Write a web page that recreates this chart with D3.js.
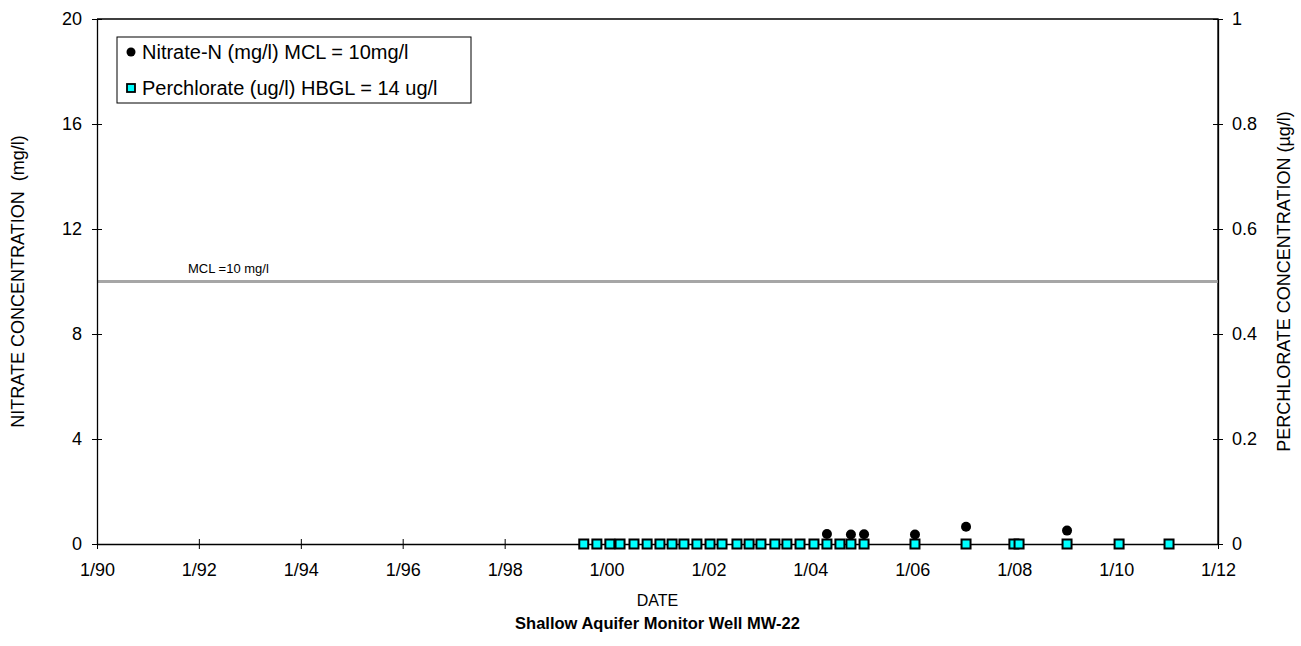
<!DOCTYPE html>
<html>
<head>
<meta charset="utf-8">
<script src="https://cdn.jsdelivr.net/npm/d3@7"></script>
<style>
    body { margin: 0; background: #fff; }
    text { font-family: "Liberation Sans", Arial, sans-serif; fill: #000; white-space: pre; }
</style>
</head>
<body>
<svg id="chart" width="1301" height="646"></svg>
<script>
// Sample dates for perchlorate (all non-detect, plotted at 0)
const perchlorateDates = [
    "1999-07-22", "1999-10-24", "2000-01-25", "2000-04-07", "2000-07-16", "2000-10-18",
    "2001-01-18", "2001-04-15", "2001-07-09", "2001-10-10", "2002-01-12", "2002-04-08",
    "2002-07-24", "2002-10-19", "2003-01-12", "2003-04-22", "2003-07-17", "2003-10-19",
    "2004-01-27", "2004-04-29", "2004-07-31", "2004-10-18", "2005-01-20", "2006-01-20",
    "2007-01-21", "2007-12-30", "2008-02-05", "2009-01-14", "2010-01-22", "2011-01-15"
];
const perchlorateValues = perchlorateDates.map(() => 0);

// Nitrate detections
const nitrateDates = ["2004-04-29", "2004-10-18", "2005-01-20", "2006-01-20", "2007-01-21", "2009-01-14"];
const nitrateValues = [0.38, 0.36, 0.37, 0.36, 0.66, 0.51];

const xTickYears = [1990, 1992, 1994, 1996, 1998, 2000, 2002, 2004, 2006, 2008, 2010, 2012];
const leftTicks = [0, 4, 8, 12, 16, 20];
const rightTicks = [0, 0.2, 0.4, 0.6, 0.8, 1];
const mclValue = 10;

const legendLabels = ["Nitrate-N (mg/l) MCL = 10mg/l", "Perchlorate (ug/l) HBGL = 14 ug/l"];

const parse = d3.timeParse("%Y-%m-%d");
const margin = { left: 97, right: 1218, top: 19, bottom: 544 };

const svg = d3.select("#chart");

const x = d3.scaleTime()
    .domain([new Date(1990, 0, 1), new Date(2012, 0, 1)])
    .range([margin.left, margin.right]);
const yLeft = d3.scaleLinear().domain([0, 20]).range([margin.bottom, margin.top]);
const yRight = d3.scaleLinear().domain([0, 1]).range([margin.bottom, margin.top]);

// plot frame (top and right edges)
svg.append("path")
    .attr("d", `M${margin.left},${margin.top}H${margin.right}V${margin.bottom}`)
    .attr("fill", "none")
    .attr("stroke", "#000")
    .attr("stroke-width", 1.3);

// MCL line
svg.append("line")
    .attr("x1", margin.left).attr("x2", margin.right)
    .attr("y1", yLeft(mclValue)).attr("y2", yLeft(mclValue))
    .attr("stroke", "#a6a6a6")
    .attr("stroke-width", 3);
svg.append("text")
    .attr("x", 188).attr("y", yLeft(mclValue) - 9)
    .attr("font-size", 13)
    .text("MCL =10 mg/l");

// axes
function styleAxis(g) {
    g.selectAll(".domain").attr("stroke", "#000").attr("stroke-width", 1.3);
    g.selectAll(".tick line").attr("stroke", "#000").attr("stroke-width", 1);
    g.selectAll(".tick text").attr("font-size", 18).attr("font-family", "Liberation Sans, Arial, sans-serif");
}

const xAxis = svg.append("g")
    .attr("transform", `translate(0,${margin.bottom})`)
    .call(d3.axisBottom(x)
        .tickValues(xTickYears.map(yr => new Date(yr, 0, 1)))
        .tickFormat(d => "1/" + d3.timeFormat("%y")(d))
        .tickSize(5)
        .tickPadding(14)
        .tickSizeOuter(0));
styleAxis(xAxis);
xAxis.selectAll(".tick line").attr("y1", -5);

const leftAxis = svg.append("g")
    .attr("transform", `translate(${margin.left},0)`)
    .call(d3.axisLeft(yLeft).tickValues(leftTicks).tickSize(5).tickPadding(10).tickSizeOuter(0));
styleAxis(leftAxis);
leftAxis.selectAll(".tick line").attr("x1", 5);

const rightAxis = svg.append("g")
    .attr("transform", `translate(${margin.right},0)`)
    .call(d3.axisRight(yRight).tickValues(rightTicks).tickFormat(d3.format("~g")).tickSize(5).tickPadding(9).tickSizeOuter(0));
styleAxis(rightAxis);
rightAxis.selectAll(".tick line").attr("x1", -5);

// nitrate dots
svg.append("g").selectAll("circle")
    .data(nitrateDates.map((d, i) => ({ date: parse(d), value: nitrateValues[i] })))
    .enter().append("circle")
    .attr("cx", d => x(d.date))
    .attr("cy", d => yLeft(d.value))
    .attr("r", 5)
    .attr("fill", "#000");

// perchlorate squares
const sq = 9;
svg.append("g").selectAll("rect")
    .data(perchlorateDates.map((d, i) => ({ date: parse(d), value: perchlorateValues[i] })))
    .enter().append("rect")
    .attr("x", d => x(d.date) - sq / 2)
    .attr("y", d => yRight(d.value) - sq / 2)
    .attr("width", sq)
    .attr("height", sq)
    .attr("fill", "#00ffff")
    .attr("stroke", "#000")
    .attr("stroke-width", 2);

// legend
const legend = svg.append("g");
legend.append("rect")
    .attr("x", 117).attr("y", 37).attr("width", 354).attr("height", 66)
    .attr("fill", "#fff").attr("stroke", "#000").attr("stroke-width", 1);
legend.append("circle").attr("cx", 131).attr("cy", 52).attr("r", 4.5).attr("fill", "#000");
legend.append("rect")
    .attr("x", 127).attr("y", 84).attr("width", 8).attr("height", 8)
    .attr("fill", "#00ffff").attr("stroke", "#000").attr("stroke-width", 1.8);
legend.selectAll("text.lg")
    .data(legendLabels)
    .enter().append("text")
    .attr("class", "lg")
    .attr("x", 142)
    .attr("y", (d, i) => 59 + i * 36)
    .attr("font-size", 20)
    .text(d => d);

// axis titles
svg.append("text")
    .attr("transform", `translate(24,${(margin.top + margin.bottom) / 2}) rotate(-90)`)
    .attr("text-anchor", "middle")
    .attr("font-size", 18)
    .text("NITRATE CONCENTRATION  (mg/l)");
svg.append("text")
    .attr("transform", `translate(1290,${(margin.top + margin.bottom) / 2}) rotate(-90)`)
    .attr("text-anchor", "middle")
    .attr("font-size", 18)
    .text("PERCHLORATE CONCENTRATION (µg/l)");
svg.append("text")
    .attr("x", (margin.left + margin.right) / 2).attr("y", 606)
    .attr("text-anchor", "middle")
    .attr("font-size", 16)
    .text("DATE");
svg.append("text")
    .attr("x", (margin.left + margin.right) / 2).attr("y", 629)
    .attr("text-anchor", "middle")
    .attr("font-size", 16.5)
    .attr("font-weight", "bold")
    .text("Shallow Aquifer Monitor Well MW-22");
</script>
</body>
</html>
